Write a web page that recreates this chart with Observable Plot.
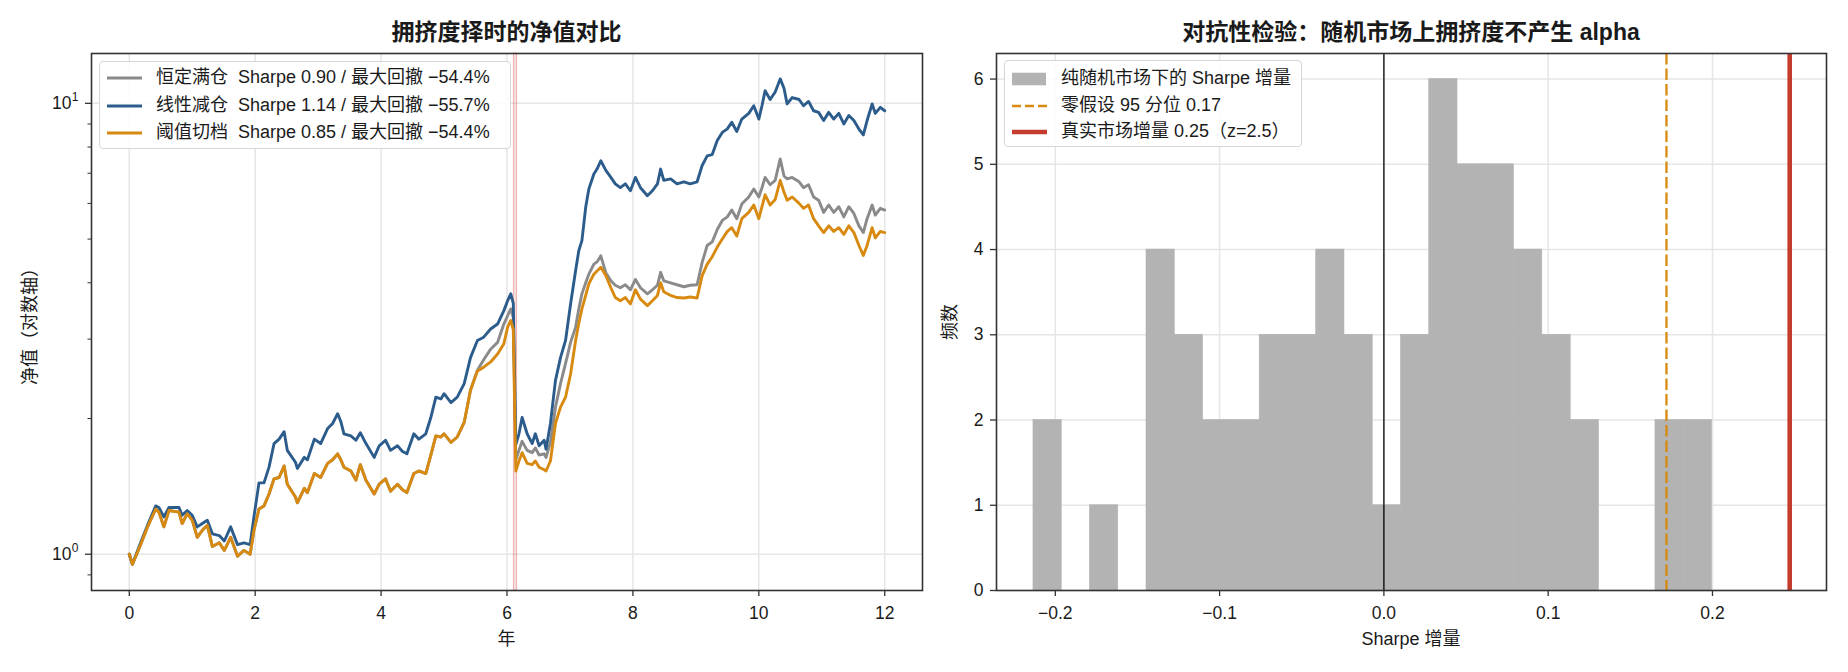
<!DOCTYPE html>
<html>
<head>
<meta charset="utf-8">
<script src="https://cdn.jsdelivr.net/npm/d3@7"></script>
<script src="https://cdn.jsdelivr.net/npm/@observablehq/plot@0.6"></script>
<style>
  body { margin: 0; background: #fff; }
  #wrap { position: relative; width: 1848px; height: 672px; overflow: hidden;
          font-family: "Liberation Sans", "Noto Sans CJK SC", sans-serif; color: #1a1a1a; }
  .abs { position: absolute; white-space: pre; line-height: 1.2; }
  .title { font-size: 23px; font-weight: bold; transform: translate(-50%, -50%); }
  .xlab { font-size: 18px; transform: translate(-50%, -50%); }
  .ylab { font-size: 18px; transform: translate(-50%, -50%) rotate(-90deg); }
  .legend { position: absolute; box-sizing: border-box; border: 1.3px solid #d6d6d6; border-radius: 4px;
            background: rgba(255,255,255,0.85); }
  .lrow { position: absolute; font-size: 18px; white-space: pre; line-height: 1.2; transform: translateY(-50%); }
  .lsym { position: absolute; overflow: visible; }
</style>
</head>
<body>
<div id="wrap">
  <div id="leftPlot" class="abs" style="left:0;top:0;"></div>
  <div id="rightPlot" class="abs" style="left:924px;top:0;"></div>
</div>
<script>
// ---------------- data ----------------
const years = [
  0.00,0.05,0.18,0.29,0.42,0.47,0.55,0.63,0.79,0.84,
  0.92,1.00,1.08,1.16,1.24,1.32,1.43,1.51,1.61,1.72,
  1.82,1.92,1.98,2.06,2.14,2.22,2.30,2.38,2.46,2.51,
  2.64,2.67,2.78,2.83,2.94,3.04,3.15,3.23,3.31,3.36,
  3.41,3.52,3.60,3.67,3.76,3.89,3.97,4.07,4.15,4.26,
  4.34,4.41,4.52,4.60,4.71,4.79,4.87,4.95,5.00,5.11,
  5.21,5.32,5.42,5.53,5.63,5.74,5.85,5.95,6.01,6.06,
  6.10,6.14,6.19,6.24,6.32,6.40,6.45,6.51,6.59,6.62,
  6.69,6.77,6.85,6.93,7.01,7.09,7.14,7.19,7.25,7.30,
  7.38,7.43,7.49,7.57,7.65,7.72,7.80,7.88,7.96,8.04,
  8.12,8.23,8.31,8.39,8.44,8.49,8.60,8.70,8.81,8.91,
  9.02,9.10,9.18,9.26,9.34,9.42,9.50,9.57,9.65,9.73,
  9.84,9.92,10.00,10.05,10.10,10.18,10.26,10.34,10.40,10.45,
  10.53,10.64,10.71,10.79,10.87,10.95,11.03,11.11,11.19,11.27,
  11.35,11.43,11.51,11.59,11.66,11.72,11.80,11.85,11.93,12.00
];
// 恒定满仓
const navConst = [
  1.00,0.95,1.05,1.15,1.26,1.24,1.15,1.25,1.24,1.17,
  1.23,1.19,1.09,1.13,1.16,1.04,1.06,1.02,1.09,0.99,
  1.02,1.00,1.13,1.26,1.28,1.36,1.47,1.48,1.57,1.43,
  1.34,1.30,1.40,1.37,1.51,1.48,1.59,1.62,1.67,1.62,
  1.56,1.53,1.46,1.58,1.46,1.36,1.43,1.47,1.38,1.43,
  1.39,1.37,1.51,1.53,1.51,1.66,1.83,1.82,1.85,1.77,
  1.82,1.96,2.31,2.56,2.70,2.85,2.95,3.24,3.38,3.50,
  3.35,1.62,1.70,1.78,1.70,1.68,1.72,1.66,1.67,1.64,
  1.77,2.12,2.39,2.65,2.95,3.19,3.50,3.78,4.00,4.18,
  4.40,4.45,4.59,4.21,4.04,3.95,3.90,3.96,3.86,4.07,
  3.90,3.78,3.86,3.95,4.22,4.04,4.00,3.96,3.92,3.95,
  3.96,4.44,4.84,4.93,5.25,5.50,5.60,5.80,5.55,5.98,
  6.20,6.46,6.20,6.50,6.85,6.60,6.75,7.53,6.90,6.80,
  6.85,6.70,6.50,6.60,6.20,6.10,5.73,5.95,5.73,5.90,
  5.60,5.90,5.70,5.35,5.17,5.55,5.95,5.65,5.85,5.80
];
// 线性减仓
const navLinear = [
  1.00,0.95,1.06,1.16,1.28,1.27,1.21,1.27,1.27,1.22,
  1.25,1.22,1.15,1.17,1.19,1.11,1.10,1.07,1.15,1.05,
  1.06,1.05,1.21,1.44,1.44,1.56,1.76,1.80,1.87,1.70,
  1.60,1.55,1.64,1.62,1.80,1.76,1.90,1.95,2.05,1.97,
  1.85,1.83,1.79,1.86,1.76,1.64,1.74,1.79,1.70,1.74,
  1.69,1.67,1.85,1.80,1.85,2.01,2.23,2.21,2.27,2.17,
  2.23,2.39,2.73,2.98,3.03,3.16,3.24,3.47,3.65,3.78,
  3.60,1.75,1.85,2.01,1.85,1.76,1.85,1.74,1.79,1.71,
  1.95,2.43,2.73,2.98,3.59,4.26,4.71,4.96,5.88,6.46,
  6.97,7.15,7.46,7.10,6.85,6.63,6.50,6.63,6.40,6.85,
  6.50,6.24,6.40,6.63,7.15,6.75,6.80,6.63,6.70,6.63,
  6.70,7.28,7.65,7.70,8.27,8.62,8.78,9.08,8.66,9.23,
  9.50,9.88,9.23,9.88,10.67,10.20,10.60,11.33,10.80,9.97,
  10.30,10.20,9.88,10.10,9.63,9.55,9.16,9.55,9.23,9.50,
  9.00,9.40,9.16,8.77,8.51,9.16,9.97,9.50,9.80,9.63
];
// 阈值切档
const navThresh = [
  1.00,0.95,1.05,1.15,1.26,1.24,1.15,1.25,1.24,1.17,
  1.23,1.19,1.09,1.13,1.16,1.04,1.06,1.02,1.09,0.99,
  1.02,1.00,1.13,1.26,1.28,1.36,1.47,1.48,1.57,1.43,
  1.34,1.30,1.40,1.37,1.51,1.48,1.59,1.62,1.67,1.62,
  1.56,1.53,1.46,1.58,1.46,1.36,1.43,1.47,1.38,1.43,
  1.39,1.37,1.51,1.53,1.51,1.66,1.83,1.82,1.85,1.77,
  1.82,1.96,2.31,2.55,2.60,2.67,2.78,2.93,3.19,3.30,
  3.15,1.53,1.61,1.68,1.59,1.58,1.61,1.56,1.54,1.53,
  1.61,1.95,2.12,2.23,2.51,2.98,3.25,3.50,3.75,3.98,
  4.18,4.25,4.33,4.15,3.90,3.71,3.65,3.71,3.59,3.86,
  3.68,3.56,3.65,3.75,4.00,3.82,3.75,3.71,3.70,3.72,
  3.70,4.15,4.40,4.57,4.80,5.00,5.20,5.30,5.08,5.55,
  5.73,5.95,5.55,5.90,6.27,5.95,6.12,6.75,6.35,6.10,
  6.20,6.00,5.85,5.95,5.55,5.35,5.17,5.35,5.20,5.30,
  5.12,5.35,5.17,4.84,4.60,4.84,5.30,5.03,5.20,5.17
];
const seriesLabels = [
  "恒定满仓  Sharpe 0.90 / 最大回撤 −54.4%",
  "线性减仓  Sharpe 1.14 / 最大回撤 −55.7%",
  "阈值切档  Sharpe 0.85 / 最大回撤 −54.4%"
];
const crashSpan = [6.11, 6.16];
const xTicksLeft = [0, 2, 4, 6, 8, 10, 12];
const yMajorLeft = [1, 10];
const yMajorExp = ["0", "1"];
const yMinorLeft = [0.9, 2, 3, 4, 5, 6, 7, 8, 9];

// histogram of Sharpe increments on random markets
const binEdges = [
  -0.2133,-0.1961,-0.1789,-0.1617,-0.1445,-0.1273,-0.1101,-0.0929,-0.0756,-0.0584,
  -0.0412,-0.0240,-0.0068,0.0104,0.0276,0.0448,0.0620,0.0792,0.0964,0.1137,
  0.1309,0.1481,0.1653,0.1825,0.1997
];
const binCounts = [2,0,1,0,4,3,2,2,3,3,4,3,1,3,6,5,5,4,3,2,0,0,2,2];
const nullQ95 = 0.172;
const realDelta = 0.247;
const xTicksRight = [-0.2, -0.1, 0.0, 0.1, 0.2];
const yTicksRight = [0, 1, 2, 3, 4, 5, 6];
const histLabels = ["纯随机市场下的 Sharpe 增量", "零假设 95 分位 0.17", "真实市场增量 0.25（z=2.5）"];

// ---------------- styles ----------------
const FONT = '"Liberation Sans", "Noto Sans CJK SC", sans-serif';
const GRAY = "#8a8a8a", BLUE = "#2c5c8c", ORANGE = "#d88a10", RED = "#c43c2e", BARC = "#b3b3b3";
const GRID = { stroke: "#e6e6e6", strokeOpacity: 1, strokeWidth: 1.5 };
const plotStyle = { fontFamily: FONT, fontSize: "17.5px", color: "#1a1a1a", background: "transparent", overflow: "visible" };
const LW = 2.9;

const lineData = vals => years.map((t, i) => ({ t, v: vals[i] }));

const left = Plot.plot({
  width: 924, height: 672,
  marginLeft: 91, marginRight: 2, marginTop: 53, marginBottom: 82,
  style: plotStyle,
  x: { domain: [-0.6, 12.6] },
  y: { type: "log", domain: [0.831, 12.9] },
  marks: [
    Plot.gridX(xTicksLeft, GRID),
    Plot.gridY(yMajorLeft, GRID),
    Plot.rect([{ a: crashSpan[0], b: crashSpan[1] }], { x1: "a", x2: "b", fill: "#e06666", fillOpacity: 0.22, stroke: "#e06666", strokeOpacity: 0.45, strokeWidth: 1 }),
    Plot.line(lineData(navConst), { x: "t", y: "v", stroke: GRAY, strokeWidth: LW, strokeLinejoin: "round" }),
    Plot.line(lineData(navLinear), { x: "t", y: "v", stroke: BLUE, strokeWidth: LW, strokeLinejoin: "round" }),
    Plot.line(lineData(navThresh), { x: "t", y: "v", stroke: ORANGE, strokeWidth: LW, strokeLinejoin: "round" }),
    Plot.frame({ stroke: "#333", strokeWidth: 1.6 }),
    Plot.axisX(xTicksLeft, { tickSize: 6, tickPadding: 10, label: null, strokeWidth: 1.3, stroke: "#333" }),
    Plot.axisY(yMajorLeft, { tickSize: 6, tickPadding: 14, label: null, strokeWidth: 1.3, stroke: "#333",
      tickFormat: () => "10" }),
    Plot.axisY(yMajorLeft, { tickSize: 0, tickPadding: 13, label: null, fontSize: 12, dy: -6,
      tickFormat: d => yMajorExp[yMajorLeft.indexOf(d)] }),
    Plot.axisY(yMinorLeft, { tickSize: 3.5, label: null, strokeWidth: 1, stroke: "#333", tickFormat: () => "" })
  ]
});
document.getElementById("leftPlot").appendChild(left);

const bins = binCounts.map((n, i) => ({ lo: binEdges[i], hi: binEdges[i + 1], n })).filter(d => d.n > 0);

const right = Plot.plot({
  width: 924, height: 672,
  marginLeft: 72, marginRight: 22, marginTop: 53, marginBottom: 82,
  style: plotStyle,
  x: { domain: [-0.2358, 0.2694] },
  y: { domain: [0, 6.3] },
  marks: [
    Plot.gridX(xTicksRight, GRID),
    Plot.gridY(yTicksRight, GRID),
    Plot.rect(bins, { x1: "lo", x2: "hi", y1: 0, y2: "n", fill: BARC, stroke: BARC, strokeWidth: 0.6, inset: 0 }),
    Plot.ruleX([0], { stroke: "#000", strokeWidth: 1.3 }),
    Plot.ruleX([nullQ95], { stroke: ORANGE, strokeWidth: 2.3, strokeDasharray: "11.5,4" }),
    Plot.ruleX([realDelta], { stroke: RED, strokeWidth: 4.6 }),
    Plot.frame({ stroke: "#333", strokeWidth: 1.6 }),
    Plot.axisX(xTicksRight, { tickSize: 6, tickPadding: 10, label: null, strokeWidth: 1.3, stroke: "#333", tickFormat: d3.format(".1f") }),
    Plot.axisY(yTicksRight, { tickSize: 6, tickPadding: 7, label: null, strokeWidth: 1.3, stroke: "#333", tickFormat: d3.format("d") })
  ]
});
document.getElementById("rightPlot").appendChild(right);

// ---------------- text & legends ----------------
const wrap = document.getElementById("wrap");
function addText(cls, txt, x, y) {
  const d = document.createElement("div");
  d.className = "abs " + cls;
  d.textContent = txt;
  d.style.left = x + "px"; d.style.top = y + "px";
  wrap.appendChild(d);
}
addText("title", "拥挤度择时的净值对比", 506.5, 33);
addText("title", "对抗性检验：随机市场上拥挤度不产生 alpha", 1411, 33);
addText("xlab", "年", 506.5, 640);
addText("xlab", "Sharpe 增量", 1411, 640);
addText("ylab", "净值（对数轴）", 31, 321.5);
addText("ylab", "频数", 951, 321.5);

function legend(x, y, w, h, items) {
  const box = document.createElement("div");
  box.className = "legend";
  Object.assign(box.style, { left: x + "px", top: y + "px", width: w + "px", height: h + "px" });
  items.forEach(it => {
    const svgNS = "http://www.w3.org/2000/svg";
    const s = document.createElementNS(svgNS, "svg");
    s.setAttribute("class", "lsym");
    s.setAttribute("width", 40); s.setAttribute("height", 20);
    s.style.left = "6px"; s.style.top = (it.y - 10) + "px";
    if (it.kind === "patch") {
      const r = document.createElementNS(svgNS, "rect");
      r.setAttribute("x", 1); r.setAttribute("y", 3.7); r.setAttribute("width", 34); r.setAttribute("height", 12.6);
      r.setAttribute("fill", it.color);
      s.appendChild(r);
    } else {
      const l = document.createElementNS(svgNS, "line");
      l.setAttribute("x1", 1); l.setAttribute("x2", 36); l.setAttribute("y1", 10); l.setAttribute("y2", 10);
      l.setAttribute("stroke", it.color); l.setAttribute("stroke-width", it.w);
      if (it.dash) l.setAttribute("stroke-dasharray", it.dash);
      s.appendChild(l);
    }
    box.appendChild(s);
    const t = document.createElement("div");
    t.className = "lrow";
    t.textContent = it.label;
    t.style.left = "56px"; t.style.top = it.y + "px";
    box.appendChild(t);
  });
  wrap.appendChild(box);
}
legend(99, 61, 412, 88, [
  { kind: "line", color: GRAY, w: 3, label: seriesLabels[0], y: 16 },
  { kind: "line", color: BLUE, w: 3, label: seriesLabels[1], y: 44 },
  { kind: "line", color: ORANGE, w: 3, label: seriesLabels[2], y: 71 }
]);
legend(1004, 60, 298, 87, [
  { kind: "patch", color: BARC, label: histLabels[0], y: 18 },
  { kind: "line", color: ORANGE, w: 2.3, dash: "9,4", label: histLabels[1], y: 45 },
  { kind: "line", color: RED, w: 4.5, label: histLabels[2], y: 71 }
]);
</script>
</body>
</html>
